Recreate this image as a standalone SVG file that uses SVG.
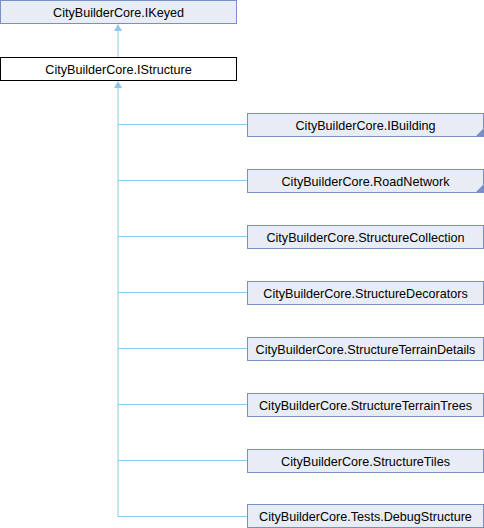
<svg xmlns="http://www.w3.org/2000/svg" width="484" height="528" viewBox="0 0 484 528">
<style>
.n{fill:#e8ecf4;stroke:#7a8fc8;stroke-width:1}
.m{fill:#fff;stroke:#000;stroke-width:1}
.t{font-family:"Liberation Sans",Arial,sans-serif;font-size:12.6px;fill:#000;text-anchor:middle}
.e{fill:none;stroke:#8ec8e8;stroke-width:1}
.c{fill:#7a8fc8}
</style>
<g id="edges">
<path class="e" d="M118,31 V57" />
<path d="M118,24 L114,31 L122,31 Z" fill="#8ec8e8"/>
<path class="e" d="M118,88 V516.5 H247" />
<path d="M118,81 L114,88 L122,88 Z" fill="#8ec8e8"/>
<path class="e" d="M118,124.5 H247 M118,180.5 H247 M118,236.5 H247 M118,292.5 H247 M118,348.5 H247 M118,404.5 H247 M118,460.5 H247"/>
</g>
<g id="IKeyed"><rect class="n" x="0.5" y="0.5" width="236" height="23"/><text class="t" x="118.5" y="16.5">CityBuilderCore.IKeyed</text></g>
<g id="IStructure"><rect class="m" x="0.5" y="57.5" width="236" height="23"/><text class="t" x="118.5" y="73.5">CityBuilderCore.IStructure</text></g>
<g id="IBuilding"><rect class="n" x="247.5" y="113.5" width="236" height="23"/><path class="c" d="M483,129 V136 H476 Z"/><text class="t" x="365.5" y="129.5">CityBuilderCore.IBuilding</text></g>
<g id="RoadNetwork"><rect class="n" x="247.5" y="169.5" width="236" height="23"/><path class="c" d="M483,185 V192 H476 Z"/><text class="t" x="365.5" y="185.5">CityBuilderCore.RoadNetwork</text></g>
<g id="StructureCollection"><rect class="n" x="247.5" y="225.5" width="236" height="23"/><text class="t" x="365.5" y="241.5">CityBuilderCore.StructureCollection</text></g>
<g id="StructureDecorators"><rect class="n" x="247.5" y="281.5" width="236" height="23"/><text class="t" x="365.5" y="297.5">CityBuilderCore.StructureDecorators</text></g>
<g id="StructureTerrainDetails"><rect class="n" x="247.5" y="337.5" width="236" height="23"/><text class="t" x="365.5" y="353.5">CityBuilderCore.StructureTerrainDetails</text></g>
<g id="StructureTerrainTrees"><rect class="n" x="247.5" y="393.5" width="236" height="23"/><text class="t" x="365.5" y="409.5">CityBuilderCore.StructureTerrainTrees</text></g>
<g id="StructureTiles"><rect class="n" x="247.5" y="449.5" width="236" height="23"/><text class="t" x="365.5" y="465.5">CityBuilderCore.StructureTiles</text></g>
<g id="DebugStructure"><rect class="n" x="247.5" y="504.5" width="236" height="23"/><text class="t" x="365.5" y="520.5">CityBuilderCore.Tests.DebugStructure</text></g>
</svg>
